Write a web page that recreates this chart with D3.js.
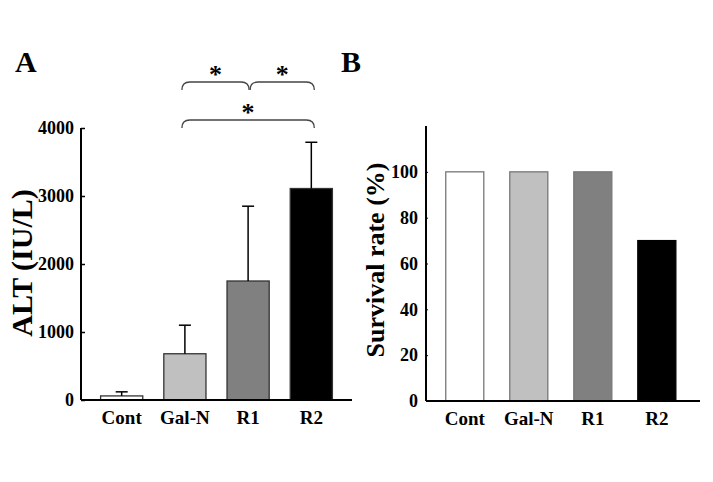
<!DOCTYPE html>
<html><head><meta charset="utf-8">
<script src="https://cdn.jsdelivr.net/npm/d3@7"></script>
<style>
html,body{margin:0;padding:0;background:#fff;}
svg{display:block;}
text{font-family:"Liberation Serif","Times New Roman",serif;font-weight:bold;fill:#000;}
</style></head>
<body><svg id="c" width="713" height="482"></svg>
<script>
// ---- data ----
const categories = ["Cont", "Gal-N", "R1", "R2"];
const altMean = [60, 680, 1750, 3110];
const altErr  = [120, 1100, 2850, 3790];   // top of error bar
const survival = [100, 100, 100, 70];
const altTicks = [0, 1000, 2000, 3000, 4000];
const survTicks = [0, 20, 40, 60, 80, 100];
const fills = ["#ffffff", "#c0c0c0", "#808080", "#000000"];
const comparisons = [["Gal-N", "R1", 0], ["R1", "R2", 0], ["Gal-N", "R2", 1]];

const svg = d3.select("#c");

// ---- Panel A ----
const AX0 = 81;
const xA = d3.scaleBand().domain(categories).range([AX0, 352]).paddingInner(0.333).paddingOuter(0.31);
const yA = d3.scaleLinear().domain([0, 4000]).range([400, 128]);
const gA = svg.append("g");

gA.selectAll("rect.bar").data(categories).enter().append("rect")
  .attr("x", d => xA(d)).attr("width", xA.bandwidth())
  .attr("y", (d, i) => yA(altMean[i])).attr("height", (d, i) => yA(0) - yA(altMean[i]))
  .attr("fill", (d, i) => fills[i]).attr("stroke", "#333").attr("stroke-width", 1.3);

// error bars
categories.forEach((c, i) => {
  const cx = xA(c) + xA.bandwidth() / 2;
  gA.append("line").attr("x1", cx).attr("x2", cx).attr("y1", yA(altMean[i])).attr("y2", yA(altErr[i]))
    .attr("stroke", "#000").attr("stroke-width", 1.5);
  gA.append("line").attr("x1", cx - 6).attr("x2", cx + 6).attr("y1", yA(altErr[i])).attr("y2", yA(altErr[i]))
    .attr("stroke", "#000").attr("stroke-width", 1.5);
});

// axes
const axA = d3.axisLeft(yA).tickValues(altTicks).tickFormat(d3.format("d")).tickSize(-4).tickPadding(7);
const gyA = gA.append("g").attr("transform", `translate(${AX0},0)`).call(axA);
gyA.select(".domain").attr("d", `M0,${yA(0)}V${yA(4000)}`).attr("stroke", "#000").attr("stroke-width", 2);
gyA.selectAll(".tick line").attr("stroke", "#000").attr("stroke-width", 1.5);
gyA.selectAll(".tick text").style("font-size", "18px");
gA.append("line").attr("x1", AX0).attr("x2", 352).attr("y1", 400).attr("y2", 400).attr("stroke", "#000").attr("stroke-width", 2);
gA.selectAll("text.xl").data(categories).enter().append("text")
  .attr("x", d => xA(d) + xA.bandwidth() / 2).attr("y", 424).attr("text-anchor", "middle")
  .style("font-size", "19px").text(d => d);
gA.append("text").attr("transform", "translate(32,263) rotate(-90)").attr("text-anchor", "middle")
  .style("font-size", "30px").text("ALT (IU/L)");
gA.append("text").attr("x", 15).attr("y", 72).style("font-size", "30px").text("A");

// significance brackets
const levelY = [82, 120];
comparisons.forEach(([a, b, lvl]) => {
  const x0 = xA(a) + xA.bandwidth() / 2 - 3 + (lvl === 0 && a === "R1" ? 5 : 0);
  const x1 = xA(b) + xA.bandwidth() / 2 + 3 - (lvl === 0 && b === "R1" ? 2 : 0);
  const y = levelY[lvl];
  gA.append("path")
    .attr("d", `M${x0},${y + 8}Q${x0},${y} ${x0 + 8},${y}L${x1 - 8},${y}Q${x1},${y} ${x1},${y + 8}`)
    .attr("fill", "none").attr("stroke", "#444").attr("stroke-width", 1.3);
  gA.append("text").attr("x", (x0 + x1) / 2).attr("y", y + 1).attr("text-anchor", "middle")
    .style("font-size", "26px").text("*");
});

// ---- Panel B ----
const xB = d3.scaleBand().domain(categories).range([426, 700]).paddingInner(0.406).paddingOuter(0.343).align(0.45);
const yB = d3.scaleLinear().domain([0, 120]).range([401, 126]);
const gB = svg.append("g");
gB.selectAll("rect.bar").data(categories).enter().append("rect")
  .attr("x", d => xB(d)).attr("width", xB.bandwidth())
  .attr("y", (d, i) => yB(survival[i])).attr("height", (d, i) => yB(0) - yB(survival[i]))
  .attr("fill", (d, i) => fills[i]).attr("stroke", (d, i) => i === 3 ? "#000" : "#777").attr("stroke-width", 1.3);
const axB = d3.axisLeft(yB).tickValues(survTicks).tickSize(-2).tickPadding(8);
const gyB = gB.append("g").attr("transform", "translate(426,0)").call(axB);
gyB.select(".domain").attr("d", `M0,${yB(0)}V${yB(120)}`).attr("stroke", "#000").attr("stroke-width", 2);
gyB.selectAll(".tick line").attr("stroke", "#000").attr("stroke-width", 1);
gyB.selectAll(".tick text").style("font-size", "18px");
gB.append("line").attr("x1", 426).attr("x2", 700).attr("y1", 401).attr("y2", 401).attr("stroke", "#000").attr("stroke-width", 2);
gB.selectAll("text.xl").data(categories).enter().append("text")
  .attr("x", d => xB(d) + xB.bandwidth() / 2).attr("y", 425).attr("text-anchor", "middle")
  .style("font-size", "19px").text(d => d);
gB.append("text").attr("transform", "translate(384,260) rotate(-90)").attr("text-anchor", "middle")
  .style("font-size", "26px").text("Survival rate (%)");
gB.append("text").attr("x", 341).attr("y", 72).style("font-size", "30px").text("B");
</script></body></html>
